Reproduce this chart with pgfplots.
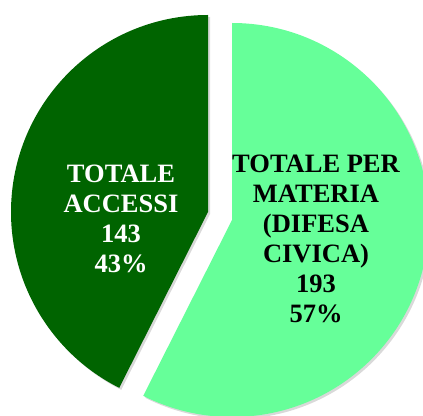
\documentclass[border=0pt]{standalone}
\usepackage{pgfplots}
\pgfplotsset{compat=1.18}
\usepackage{pgfplotstable}
\usepackage{fontspec}
\setmainfont{Liberation Serif}
\usetikzlibrary{shadows}

\definecolor{accessi}{RGB}{0,100,0}
\definecolor{materia}{RGB}{102,255,153}

% two slices of the pie
\pgfplotstableread{
name value
accessi 143
materia 193
}\piedata

\begin{document}
\begin{tikzpicture}
\pgfplotstablegetelem{0}{value}\of\piedata \let\va\pgfplotsretval
\pgfplotstablegetelem{1}{value}\of\piedata \let\vb\pgfplotsretval
\pgfmathsetmacro\frac{\va/(\va+\vb)}
\pgfmathsetmacro\split{90+360*\frac}
\begin{axis}[
    x=1pt, y=1pt,
    xmin=0, xmax=423, ymin=0, ymax=415,
    hide axis,
    scale only axis,
]
\path (axis cs:0,0) rectangle (axis cs:423,415);

% dark slice (totale accessi)
\fill[accessi, drop shadow={shadow xshift=2pt, shadow yshift=-2pt, opacity=0.3}]
    (axis cs:208,203) -- ++(90:197pt)
    arc[start angle=90, end angle=\split, radius=197pt] -- cycle;

% light slice, pulled out
\fill[materia, drop shadow={shadow xshift=2pt, shadow yshift=-2pt, opacity=0.3}]
    (axis cs:232,195) -- ++(90:197pt)
    arc[start angle=90, end angle=\split-360, radius=197pt] -- cycle;

\node[align=center, text=white, font=\bfseries\fontsize{26.5}{30}\selectfont]
    at (axis cs:121,196) {TOTALE\\ACCESSI\\143\\43\%};
\node[align=center, text=black, font=\bfseries\fontsize{26.5}{30}\selectfont]
    at (axis cs:316,176) {TOTALE PER\\MATERIA\\(DIFESA\\CIVICA)\\193\\57\%};
\end{axis}
\end{tikzpicture}
\end{document}
